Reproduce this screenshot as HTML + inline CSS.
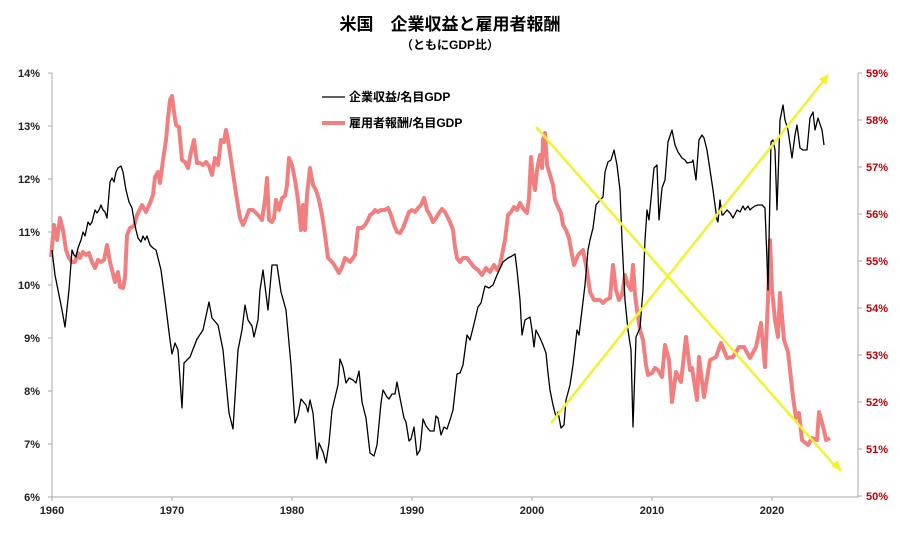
<!DOCTYPE html>
<html><head><meta charset="utf-8"><style>
html,body{margin:0;padding:0;background:#fff}
svg{display:block;font-family:"Liberation Sans","Noto Sans CJK JP",sans-serif}
</style></head><body>
<svg width="900" height="549" viewBox="0 0 900 549">
<text x="450" y="30" text-anchor="middle" font-size="17" font-weight="bold">米国　企業収益と雇用者報酬</text>
<text x="450" y="49" text-anchor="middle" font-size="12" font-weight="bold">（ともにGDP比）</text>
<g stroke="#aaa" stroke-width="1" fill="none">
<path d="M52 73V497H858V73"/>
<path d="M48 73H52M48 126H52M48 179H52M48 232H52M48 285H52M48 338H52M48 391H52M48 444H52M48 497H52"/>
<path d="M858 73H862M858 120H862M858 167H862M858 214H862M858 261H862M858 308H862M858 355H862M858 402H862M858 449H862M858 496H862"/>
<path d="M52 497V501M172 497V501M292 497V501M412 497V501M532 497V501M652 497V501M772 497V501"/>
</g>
<g font-size="11" font-weight="bold" text-anchor="end" fill="#222">
<text x="40" y="77">14%</text><text x="40" y="130">13%</text><text x="40" y="183">12%</text><text x="40" y="236">11%</text><text x="40" y="289">10%</text><text x="40" y="342">9%</text><text x="40" y="395">8%</text><text x="40" y="448">7%</text><text x="40" y="501">6%</text>
</g>
<g font-size="11" font-weight="bold" fill="#c00000">
<text x="866" y="77">59%</text><text x="866" y="124">58%</text><text x="866" y="171">57%</text><text x="866" y="218">56%</text><text x="866" y="265">55%</text><text x="866" y="312">54%</text><text x="866" y="359">53%</text><text x="866" y="406">52%</text><text x="866" y="453">51%</text><text x="866" y="500">50%</text>
</g>
<g font-size="11" font-weight="bold" text-anchor="middle" fill="#222">
<text x="52" y="514">1960</text><text x="172" y="514">1970</text><text x="292" y="514">1980</text><text x="412" y="514">1990</text><text x="532" y="514">2000</text><text x="652" y="514">2010</text><text x="772" y="514">2020</text>
</g>
<polyline fill="none" stroke="#f27f7f" stroke-width="4" stroke-linejoin="round" points="51,257 54,225 57,240 60,218 63,230 66,250 69,258 72,262 75,262 78,253 80,258 83,252 86,255 89,253 92,262 95,268 98,260 101,262 104,260 107,245 110,262 112,270 115,282 118,272 120,287 123,288 125,278 127,235 130,228 134,226 137,215 142,205 146,212 150,203 153,195 155,177 158,172 160,183 163,160 166,140 168,118 170,100 172,96 174,112 176,125 179,127 182,160 185,162 188,168 191,152 194,140 197,163 200,163 203,165 206,162 209,166 212,175 215,158 218,165 221,140 224,142 226,130 228,140 231,160 234,180 237,200 240,218 243,225 246,218 249,210 253,210 256,213 259,216 262,220 265,200 267,178 269,220 272,222 274,218 276,200 279,210 282,198 285,196 287,185 289,158 292,165 295,180 298,200 301,230 303,205 305,230 307,195 310,168 313,185 316,190 319,200 322,215 325,235 328,258 333,263 336,268 339,273 342,267 345,258 348,260 350,262 353,258 355,255 358,228 362,228 365,225 368,220 370,215 373,213 375,210 378,212 381,210 385,210 388,208 391,215 394,225 397,232 400,233 403,228 406,220 409,212 412,210 415,212 418,208 421,205 424,198 427,210 430,215 433,222 436,218 439,213 442,209 445,212 450,222 453,230 455,247 457,258 460,262 463,258 467,258 470,262 474,267 478,270 482,275 486,268 490,272 494,265 497,270 500,265 505,240 508,215 511,212 514,207 517,210 520,203 524,210 527,213 529,198 531,157 533,180 535,190 537,170 540,155 542,168 543,140 545,133 547,165 550,175 553,185 555,200 558,207 561,213 563,225 566,230 569,238 572,255 574,265 578,255 583,250 587,270 590,292 594,300 600,300 603,303 606,300 610,298 613,265 616,290 619,300 622,295 625,275 628,285 631,290 633,265 635,295 637,310 640,330 643,340 646,365 648,375 652,373 655,368 658,370 662,377 665,345 669,360 672,402 676,372 681,382 686,337 690,370 692,368 697,400 699,357 704,397 710,360 716,357 721,343 727,358 733,357 739,347 744,347 750,358 756,347 761,323 765,367 768,300 770,240 772,290 775,320 778,337 780,293 784,340 788,352 790,370 793,397 796,418 799,413 802,440 808,445 812,438 817,440 819,412 824,430 826,440 830,438"/>
<polyline fill="none" stroke="#000" stroke-width="1.3" stroke-linejoin="round" points="52,250 55,275 58,290 62,310 65,327 69,290 72,250 74,255 76,257 78,248 81,240 83,232 85,236 88,222 90,225 92,222 95,210 97,213 99,210 101,205 103,210 105,212 107,218 110,182 112,178 114,182 116,172 118,168 121,166 123,172 126,190 129,202 132,208 134,220 136,230 138,238 141,242 143,236 145,240 147,236 150,245 153,248 156,250 158,258 161,270 165,300 170,340 172,354 175,343 178,350 182,408 184,363 190,357 197,339 203,330 209,302 212,318 218,325 223,350 229,413 233,429 238,350 242,330 245,305 248,320 252,326 254,337 258,320 260,290 263,270 268,310 272,265 277,265 281,292 286,310 291,365 295,423 298,415 301,399 306,405 308,412 310,400 313,413 317,459 319,443 323,452 326,463 329,443 332,410 338,385 340,359 343,367 346,383 349,378 353,380 356,383 359,371 362,402 366,418 370,453 374,456 377,445 381,403 383,390 387,397 389,399 392,394 395,394 397,382 400,398 404,418 406,422 409,441 411,439 414,427 417,455 420,450 423,419 426,426 430,431 434,431 436,416 438,418 441,435 444,427 447,429 450,420 453,410 457,374 460,373 463,365 467,335 470,340 473,328 478,307 481,303 485,286 489,288 493,285 497,275 503,262 508,258 512,256 515,254 517,270 520,300 522,335 525,320 530,317 532,330 534,347 536,330 540,338 543,345 546,353 548,373 550,390 553,405 556,417 558,412 561,428 564,425 566,400 570,385 573,365 577,330 579,335 582,310 585,285 588,250 590,240 593,228 596,205 600,200 603,197 605,172 608,162 611,160 614,150 617,165 620,190 622,240 625,300 628,330 631,350 633,427 636,337 640,328 643,290 645,240 647,210 649,220 654,168 657,165 659,220 662,188 665,180 668,142 672,130 675,145 678,152 682,158 685,160 687,163 692,162 693,160 696,180 699,140 702,135 704,138 707,150 710,170 713,190 717,220 718,222 720,200 722,215 723,215 727,210 730,213 733,218 737,210 740,212 743,206 745,210 748,206 750,210 752,208 755,206 758,205 762,205 765,208 767,260 768,290 771,142 773,140 775,150 777,210 780,120 783,105 785,120 788,130 792,158 795,135 797,125 800,148 803,150 807,150 810,118 813,112 815,130 818,118 822,130 824,145"/>
<g stroke="#f2f230" stroke-width="2.5" fill="#f2f230">
<line x1="536" y1="127" x2="836" y2="467"/>
<line x1="551" y1="423" x2="825" y2="79"/>
<polygon points="842,472 831,466 838,460" stroke="none"/>
<polygon points="829,74 826,85 819,79" stroke="none"/>
</g>
<line x1="322" y1="97" x2="345" y2="97" stroke="#000" stroke-width="1.3"/>
<text x="349" y="101" font-size="12" font-weight="bold">企業収益/名目GDP</text>
<line x1="322" y1="123" x2="345" y2="123" stroke="#f27f7f" stroke-width="4"/>
<text x="349" y="127" font-size="12" font-weight="bold">雇用者報酬/名目GDP</text>
</svg>
</body></html>
